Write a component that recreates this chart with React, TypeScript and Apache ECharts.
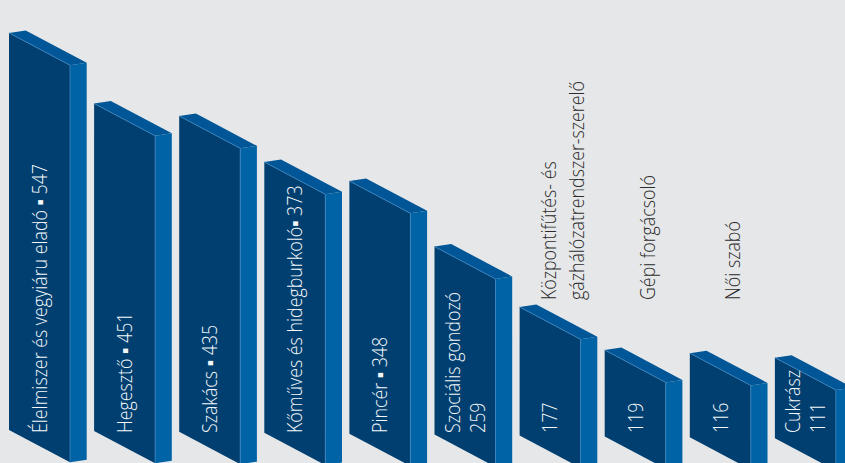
import React, { useEffect, useRef } from "react";
import * as echarts from "echarts";

const categories = [
  "Élelmiszer és vegyiáru eladó",
  "Hegesztő",
  "Szakács",
  "Kőműves és hidegburkoló",
  "Pincér",
  "Szociális gondozó",
  "Központifűtés- és\ngázhálózatrendszer-szerelő",
  "Gépi forgácsoló",
  "Női szabó",
  "Cukrász",
];
const values = [547, 451, 435, 373, 348, 259, 177, 119, 116, 111];
// how each label is placed: "inline" = name ▪ value, "stacked" = name / value, "outside" = value inside, name above
const labelModes = ["inline", "inline", "inline", "inline", "inline", "stacked", "outside", "outside", "outside", "stacked"];
const separators = [" ▪ ", " ▪ ", " ▪ ", "▪ ", " ▪ ", "", "", "", "", ""];

const BG = "#e6e7e9";
const FRONT = "#003f6f";
const SIDE = "#0063a5";
const TOP = "#005696";
const EDGE = "#3d85c2";

export default function App() {
  const ref = useRef<HTMLDivElement>(null);
  useEffect(() => {
    if (!ref.current) return;
    const chart = echarts.init(ref.current, null, { renderer: "svg" });
    const W = 61;
    const D = 16.7;
    const DY = -2.5;
    const K = 0.53;
    const font = { fontFamily: "'Open Sans', sans-serif", fontWeight: 300, fontSize: 20 } as any;
    const option: any = {
      animation: false,
      backgroundColor: BG,
      grid: { left: 5.45, right: 3.55, top: 1.66, bottom: 33 },
      xAxis: { type: "category", data: categories, show: false, boundaryGap: true },
      yAxis: { type: "value", min: 0, max: 590, show: false },
      series: [
        {
          type: "custom",
          clip: false,
          data: values.map((v, i) => [i, v]),
          encode: { x: 0, y: 1 },
          renderItem: (params: any, api: any) => {
            const i = api.value(0);
            const v = api.value(1);
            const c = api.coord([i, 0]);
            const t = api.coord([i, v]);
            const x0 = c[0] - 39;
            const drop = i * 0.92;
            const yb = c[1] + drop;
            const yt = t[1] + drop;
            const s = W * K;
            const children: any[] = [
              {
                type: "polygon",
                shape: { points: [[x0, yt], [x0 + W, yt + s], [x0 + W, yb + s], [x0, yb]] },
                style: { fill: FRONT },
              },
              {
                type: "polygon",
                shape: {
                  points: [
                    [x0 + W, yt + s],
                    [x0 + W + D, yt + s + DY],
                    [x0 + W + D, yb + s + DY],
                    [x0 + W, yb + s],
                  ],
                },
                style: { fill: SIDE },
              },
              {
                type: "polygon",
                shape: {
                  points: [
                    [x0, yt],
                    [x0 + D, yt + DY],
                    [x0 + W + D, yt + s + DY],
                    [x0 + W, yt + s],
                  ],
                },
                style: { fill: TOP },
              },
              {
                type: "polyline",
                shape: { points: [[x0, yt], [x0 + W, yt + s], [x0 + W, yb + s]] },
                style: { stroke: EDGE, lineWidth: 0.8, fill: null },
              },
            ];
            const mode = labelModes[i];
            const name = categories[i];
            let inside = "";
            if (mode === "inline") inside = name + separators[i] + v;
            else if (mode === "stacked") inside = name + "\n" + v;
            else inside = String(v);
            children.push({
              type: "text",
              x: x0 + 30.5,
              y: c[1] + 3,
              rotation: Math.PI / 2,
              scaleX: 0.89,
              style: {
                text: inside,
                fill: "#f4f7fa",
                align: "left",
                verticalAlign: "middle",
                lineHeight: 25,
                ...font,
              },
            });
            if (mode === "outside") {
              children.push({
                type: "text",
                x: x0 + 43,
                y: c[1] - 130,
                rotation: Math.PI / 2,
                scaleX: 0.89,
                style: {
                  text: name,
                  fill: "#2b2b2b",
                  align: "left",
                  verticalAlign: "middle",
                  lineHeight: 29,
                  ...font,
                },
              });
            }
            return { type: "group", children };
          },
        },
      ],
    };
    chart.setOption(option);
    return () => chart.dispose();
  }, []);
  return (
    <div style={{ position: "fixed", left: 0, top: 0, width: 845, height: 463, overflow: "hidden", background: BG }}>
      <div ref={ref} style={{ width: 860, height: 463 }} />
    </div>
  );
}
